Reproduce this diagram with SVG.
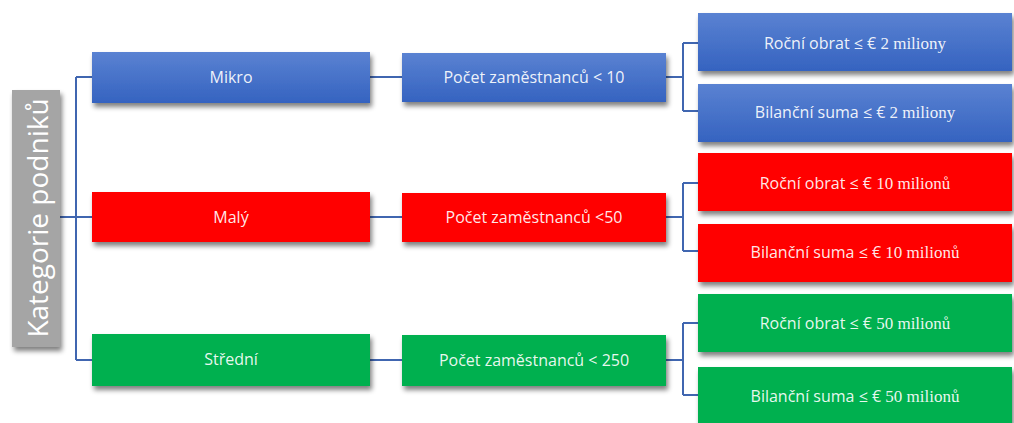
<svg xmlns="http://www.w3.org/2000/svg" width="1014" height="423" viewBox="0 0 1014 423">
  <defs>
    <linearGradient id="blueFill" x1="0" y1="0" x2="0" y2="1">
      <stop offset="0" stop-color="#5a82d2"/>
      <stop offset="1" stop-color="#3563c0"/>
    </linearGradient>
    <filter id="shadow" x="-10%" y="-20%" width="125%" height="160%">
      <feGaussianBlur in="SourceAlpha" stdDeviation="2.5"/>
      <feOffset dx="2" dy="4" result="blur"/>
      <feComponentTransfer><feFuncA type="linear" slope="0.5"/></feComponentTransfer>
      <feMerge><feMergeNode/><feMergeNode in="SourceGraphic"/></feMerge>
    </filter>
  </defs>
  <style>
    .box { filter: url(#shadow); }
    .blue { fill: url(#blueFill); }
    .red { fill: #ff0000; }
    .green { fill: #00b050; }
    .gray { fill: #a5a5a5; }
    .lbl { font-family: "Open Sans", "Liberation Sans", sans-serif; font-size: 16px; fill: #ffffff; fill-opacity: 0.92; text-anchor: middle; dominant-baseline: central; }
    .serif { font-family: "Liberation Serif", serif; font-size: 17px; }
    .title { font-family: "Open Sans", "Liberation Sans", sans-serif; font-size: 28px; fill: #ffffff; text-anchor: middle; dominant-baseline: central; }
    .conn { fill: none; stroke: #4066b0; stroke-width: 2; }
  </style>

  <!-- connectors -->
  <g id="connectors">
    <path class="conn" d="M60 217 H93 M76 77 V360 M76 77 H93 M76 360 H93"/>
    <path class="conn" d="M370 77 H402 M370 217 H402 M370 360 H402"/>
    <path class="conn" d="M666 77 H683 M683 43 V111 M683 43 H698 M683 111 H698"/>
    <path class="conn" d="M666 217 H683 M683 183 V251 M683 183 H698 M683 251 H698"/>
    <path class="conn" d="M666 360 H683 M683 323 V395 M683 323 H698 M683 395 H698"/>
  </g>

  <!-- root -->
  <g id="root">
    <rect class="box gray" x="12" y="90" width="48" height="257"/>
    <text class="title" transform="translate(37 218) rotate(-90)">Kategorie podniků</text>
  </g>

  <!-- size categories -->
  <g id="mikro">
    <rect class="box blue" x="92" y="52" width="278" height="51"/>
    <text class="lbl" x="231" y="77">Mikro</text>
  </g>
  <g id="maly">
    <rect class="box red" x="92" y="192" width="278" height="50"/>
    <text class="lbl" x="231" y="217">Malý</text>
  </g>
  <g id="stredni">
    <rect class="box green" x="92" y="334" width="278" height="52"/>
    <text class="lbl" x="231" y="359">Střední</text>
  </g>

  <!-- employee counts -->
  <g id="mikro-zam">
    <rect class="box blue" x="402" y="53" width="264" height="49"/>
    <text class="lbl" x="534" y="77">Počet zaměstnanců &lt; 10</text>
  </g>
  <g id="maly-zam">
    <rect class="box red" x="402" y="193" width="264" height="49"/>
    <text class="lbl" x="534" y="217">Počet zaměstnanců &lt;50</text>
  </g>
  <g id="stredni-zam">
    <rect class="box green" x="402" y="335" width="264" height="51"/>
    <text class="lbl" x="534" y="360">Počet zaměstnanců &lt;  250</text>
  </g>

  <!-- turnover and balance sheet limits -->
  <g id="mikro-obrat">
    <rect class="box blue" x="698" y="13" width="314" height="58"/>
    <text class="lbl" x="855" y="43">Roční obrat ≤ € <tspan class="serif">2 miliony</tspan></text>
  </g>
  <g id="mikro-bilance">
    <rect class="box blue" x="698" y="84" width="314" height="58"/>
    <text class="lbl" x="855" y="112">Bilanční suma ≤ € <tspan class="serif">2 miliony</tspan></text>
  </g>
  <g id="maly-obrat">
    <rect class="box red" x="698" y="153" width="314" height="58"/>
    <text class="lbl" x="855" y="183">Roční obrat ≤ € <tspan class="serif">10  milionů</tspan></text>
  </g>
  <g id="maly-bilance">
    <rect class="box red" x="698" y="224" width="314" height="58"/>
    <text class="lbl" x="855" y="252">Bilanční suma ≤ € <tspan class="serif">10 milionů</tspan></text>
  </g>
  <g id="stredni-obrat">
    <rect class="box green" x="698" y="294" width="314" height="58"/>
    <text class="lbl" x="855" y="323">Roční obrat ≤ € <tspan class="serif">50  milionů</tspan></text>
  </g>
  <g id="stredni-bilance">
    <rect class="box green" x="698" y="367" width="314" height="58"/>
    <text class="lbl" x="855" y="396">Bilanční suma ≤ € <tspan class="serif">50 milionů</tspan></text>
  </g>
</svg>
